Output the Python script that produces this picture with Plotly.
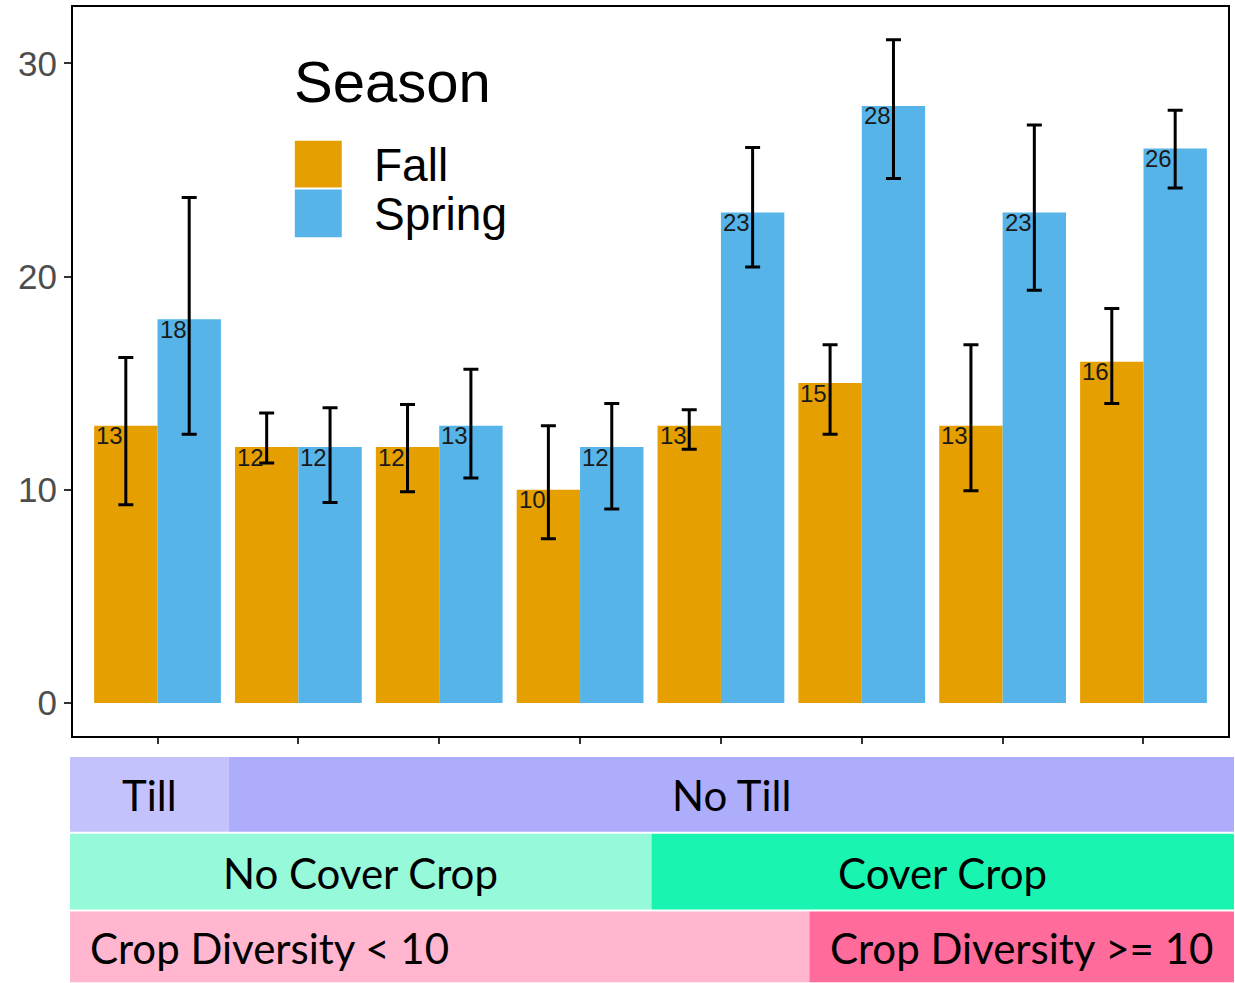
import plotly.graph_objects as go

# Treatment groups (left to right) and seasonal means with interval bounds
groups = ["G1", "G2", "G3", "G4", "G5", "G6", "G7", "G8"]
fall_mean = [13, 12, 12, 10, 13, 15, 13, 16]
spring_mean = [18, 12, 13, 12, 23, 28, 23, 26]
fall_upper = [16.2, 13.6, 14.0, 13.0, 13.75, 16.8, 16.8, 18.5]
fall_lower = [9.3, 11.25, 9.9, 7.7, 11.9, 12.6, 9.95, 14.05]
spring_upper = [23.7, 13.85, 15.65, 14.05, 26.05, 31.1, 27.1, 27.8]
spring_lower = [12.6, 9.4, 10.55, 9.1, 20.45, 24.6, 19.35, 24.15]
y_ticks = [0, 10, 20, 30]

FALL_COLOR = "#E69F00"
SPRING_COLOR = "#56B4E9"

W, H = 1235, 983
L, R, T, B = 73, 6, 5, 247
PW, PH = W - L - R, H - T - B


def px(x):
    return (x - L) / PW


def py(y):
    return (H - B - y) / PH


fig = go.Figure()

for name, means, up, lo, color in [
    ("Fall", fall_mean, fall_upper, fall_lower, FALL_COLOR),
    ("Spring", spring_mean, spring_upper, spring_lower, SPRING_COLOR),
]:
    fig.add_trace(go.Bar(
        x=groups, y=means, name=name,
        marker=dict(color=color, line=dict(width=0)),
        error_y=dict(
            type="data", symmetric=False,
            array=[u - m for u, m in zip(up, means)],
            arrayminus=[m - l for m, l in zip(means, lo)],
            color="black", thickness=3, width=7.5,
        ),
        showlegend=False,
    ))

# value labels at the upper-left corner of each bar
annotations = []
for i in range(len(groups)):
    for offset, val in [(-0.45, fall_mean[i]), (0.0, spring_mean[i])]:
        annotations.append(dict(
            x=i + offset, y=val, xref="x", yref="y",
            text=str(val), showarrow=False,
            xanchor="left", yanchor="middle", xshift=0, yshift=-10,
            font=dict(family="Liberation Sans, Arial", size=24, color="#1a1a1a"),
        ))

# legend
annotations.append(dict(
    x=px(292), y=py(80), xref="paper", yref="paper", text="Season",
    showarrow=False, xanchor="left", yanchor="middle",
    font=dict(family="Liberation Sans, Arial", size=58, color="black"),
))
for label, cy in [("Fall", 163), ("Spring", 213)]:
    annotations.append(dict(
        x=px(372), y=py(cy), xref="paper", yref="paper", text=label,
        showarrow=False, xanchor="left", yanchor="middle",
        font=dict(family="Liberation Sans, Arial", size=46, color="black"),
    ))

shapes = [
    dict(type="rect", xref="paper", yref="paper",
         x0=px(295), x1=px(342), y0=py(186), y1=py(139),
         fillcolor=FALL_COLOR, line=dict(width=0), layer="above"),
    dict(type="rect", xref="paper", yref="paper",
         x0=px(295), x1=px(342), y0=py(236), y1=py(188),
         fillcolor=SPRING_COLOR, line=dict(width=0), layer="above"),
]

# treatment description strips beneath the axis
strips = [
    (70, 229, 757, 832, "#C4C2FD", "Till", "center"),
    (229, 1235, 757, 832, "#AEADFC", "No Till", "center"),
    (70, 652, 834, 910, "#96F9DA", "No Cover Crop", "center"),
    (652, 1235, 834, 910, "#19F5B1", "Cover Crop", "center"),
    (70, 810, 912, 983, "#FFB6CE", "Crop Diversity < 10", "left"),
    (810, 1235, 912, 983, "#FF6B9A", "Crop Diversity >= 10", "center"),
]
for x0, x1, y0, y1, color, text, align in strips:
    shapes.append(dict(
        type="rect", xref="paper", yref="paper",
        x0=px(x0), x1=px(x1), y0=py(y1), y1=py(y0),
        fillcolor=color, line=dict(width=0), layer="above",
    ))
    if align == "left":
        tx, anchor = px(x0 + 18), "left"
    else:
        tx, anchor = px((x0 + x1) / 2), "center"
    annotations.append(dict(
        x=tx, y=py((y0 + y1) / 2 + 1), xref="paper", yref="paper", text=text,
        showarrow=False, xanchor=anchor, yanchor="middle",
        font=dict(family="Lato, Carlito, sans-serif", size=42, color="black"),
    ))

fig.update_layout(
    width=W, height=H,
    margin=dict(l=L, r=R, t=T, b=B),
    paper_bgcolor="white", plot_bgcolor="white",
    barmode="group", bargap=0.1, bargroupgap=0,
    annotations=annotations, shapes=shapes,
    xaxis=dict(
        type="category", range=[-0.6, 7.6],
        showticklabels=False, ticks="outside", ticklen=6, tickwidth=2,
        tickcolor="#333333", showgrid=False, zeroline=False,
        showline=True, linecolor="black", linewidth=2, mirror=True,
    ),
    yaxis=dict(
        range=[-1.55, 32.64], tickvals=y_ticks,
        tickfont=dict(family="Liberation Sans, Arial", size=35, color="#4D4D4D"),
        ticks="outside", ticklen=7, tickwidth=2, tickcolor="#333333",
        showgrid=False, zeroline=False,
        showline=True, linecolor="black", linewidth=2, mirror=True,
    ),
)

fig.write_html("out.html")
